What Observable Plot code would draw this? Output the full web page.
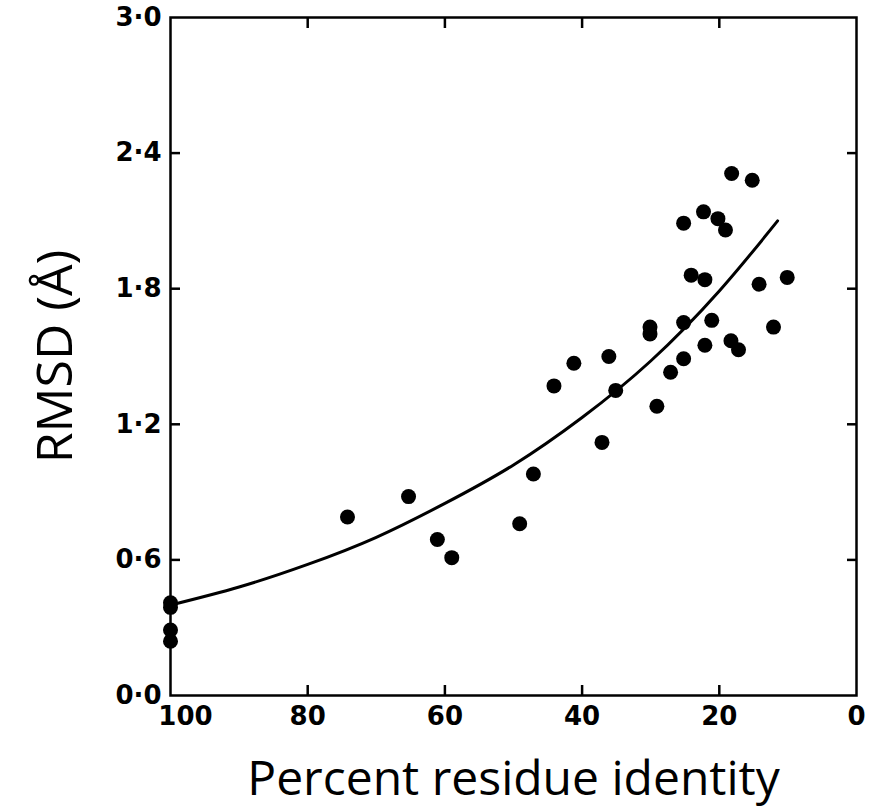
<!DOCTYPE html>
<html>
<head>
<meta charset="utf-8">
<script src="https://cdn.jsdelivr.net/npm/d3@7"></script>
<script src="https://cdn.jsdelivr.net/npm/@observablehq/plot@0.6"></script>
<style>
  html, body { margin: 0; padding: 0; background: #fff; }
</style>
</head>
<body>
<div id="chart"></div>
<script>
// Observed pairs: percent residue identity vs core RMSD (Å)
const identity = [100, 100, 100, 100, 74.2, 65.3, 61.1, 59.0, 49.1, 47.1, 44.1, 41.2, 37.1, 36.1, 35.1,
  30.1, 30.1, 29.1, 27.1, 25.2, 25.2, 25.2, 24.1, 22.1, 22.1, 22.3, 21.1, 20.2, 19.1, 18.3, 17.2,
  18.2, 15.2, 14.2, 12.1, 10.1];
const rmsd = [0.41, 0.39, 0.29, 0.24, 0.79, 0.88, 0.69, 0.61, 0.76, 0.98, 1.37, 1.47, 1.12, 1.50, 1.35,
  1.63, 1.60, 1.28, 1.43, 1.49, 1.65, 2.09, 1.86, 1.84, 1.55, 2.14, 1.66, 2.11, 2.06, 1.57, 1.53,
  2.31, 2.28, 1.82, 1.63, 1.85];

// Fitted curve
const curveIdentity = [100, 90, 80, 70, 60, 50, 40, 30, 20, 11.5];
const curveRmsd = [0.40, 0.48, 0.58, 0.70, 0.85, 1.02, 1.23, 1.48, 1.79, 2.10];

// Tick values and labels
const xTicks = [100, 80, 60, 40, 20, 0];
const yTicks = [0, 0.6, 1.2, 1.8, 2.4, 3.0];
const xTitle = "Percent residue identity";
const yTitle = "RMSD (Å)";

const points = identity.map((x, i) => ({x, y: rmsd[i]}));
const curve = curveIdentity.map((x, i) => ({x, y: curveRmsd[i]}));

const tickFont = "'DejaVu Sans', sans-serif";
const titleFont = "'Open Sans', Lato, sans-serif";
const fmtY = d => d.toFixed(1).replace(".", "·");

const chart = Plot.plot({
  width: 881,
  height: 810,
  marginLeft: 170,
  marginRight: 25,
  marginTop: 17,
  marginBottom: 115,
  style: {background: "#fff", color: "#000"},
  x: {domain: [100, 0]},
  y: {domain: [0, 3]},
  marks: [
    Plot.frame({stroke: "#000", strokeWidth: 2.5}),
    // inward ticks on all four sides
    Plot.axisX(xTicks.slice(1, -1), {anchor: "bottom", tickSize: -10, strokeWidth: 2.5, tickFormat: () => "", label: null}),
    Plot.axisX(xTicks.slice(1, -1), {anchor: "top", tickSize: -10, strokeWidth: 2.5, tickFormat: () => "", label: null}),
    Plot.axisY(yTicks.slice(1, -1), {anchor: "left", tickSize: -10, strokeWidth: 2.5, tickFormat: () => "", label: null}),
    Plot.axisY(yTicks.slice(1, -1), {anchor: "right", tickSize: -10, strokeWidth: 2.5, tickFormat: () => "", label: null}),
    // tick labels
    Plot.axisX(xTicks.slice(1), {anchor: "bottom", tickSize: 0, tickPadding: 11, tickFormat: d3.format("d"),
      fontSize: 26, fontWeight: "bold", fontFamily: tickFont, label: null}),
    Plot.axisX(xTicks.slice(0, 1), {anchor: "bottom", tickSize: 0, tickPadding: 11, dx: 15, tickFormat: d3.format("d"),
      fontSize: 26, fontWeight: "bold", fontFamily: tickFont, label: null}),
    Plot.axisY(yTicks, {anchor: "left", tickSize: 0, tickPadding: 9, tickFormat: fmtY,
      fontSize: 26, fontWeight: "bold", fontFamily: tickFont, label: null}),
    // axis titles
    Plot.text([xTitle], {text: d => d, frameAnchor: "bottom", textAnchor: "middle", lineAnchor: "middle", dy: 84, fontSize: 48, fontFamily: titleFont, fill: "#000"}),
    Plot.text([yTitle], {text: d => d, frameAnchor: "left", textAnchor: "middle", lineAnchor: "middle", dx: -115, rotate: -90, fontSize: 50, fontFamily: titleFont, fill: "#000"}),
    // data
    Plot.line(curve, {x: "x", y: "y", curve: "natural", stroke: "#000", strokeWidth: 3}),
    Plot.dot(points, {x: "x", y: "y", r: 7.5, fill: "#000", stroke: "none"})
  ]
});
document.getElementById("chart").append(chart);
</script>
</body>
</html>
